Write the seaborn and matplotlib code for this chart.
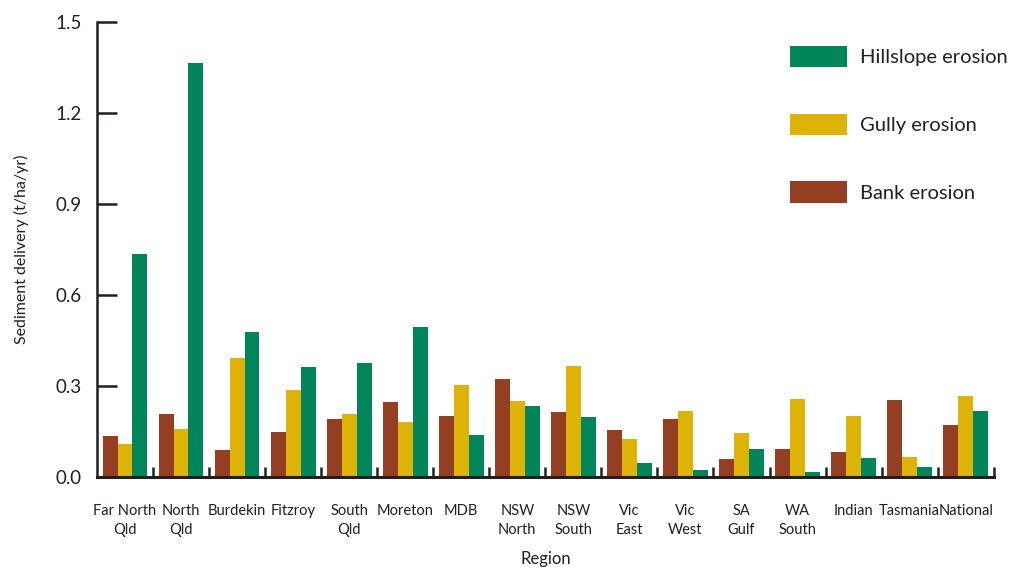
import matplotlib
matplotlib.use("Agg")
import matplotlib.pyplot as plt
import seaborn as sns
import pandas as pd
import numpy as np

regions = ["Far North\nQld", "North\nQld", "Burdekin", "Fitzroy", "South\nQld", "Moreton",
           "MDB", "NSW\nNorth", "NSW\nSouth", "Vic\nEast", "Vic\nWest", "SA\nGulf",
           "WA\nSouth", "Indian", "Tasmania", "National"]
bank = [0.134, 0.208, 0.087, 0.148, 0.192, 0.247, 0.202, 0.322, 0.213, 0.153, 0.192, 0.060,
        0.092, 0.083, 0.254, 0.170]
gully = [0.108, 0.159, 0.392, 0.286, 0.208, 0.180, 0.302, 0.251, 0.365, 0.124, 0.216, 0.145,
         0.256, 0.202, 0.065, 0.266]
hillslope = [0.737, 1.365, 0.478, 0.362, 0.375, 0.496, 0.139, 0.233, 0.196, 0.044, 0.021, 0.092,
             0.016, 0.063, 0.032, 0.216]
series = ["Bank erosion", "Gully erosion", "Hillslope erosion"]
colors = ["#943E22", "#DDB308", "#00845A"]
yticks = [0.0, 0.3, 0.6, 0.9, 1.2, 1.5]

df = pd.DataFrame({
    "Region": regions * 3,
    "Value": bank + gully + hillslope,
    "Series": [series[0]] * 16 + [series[1]] * 16 + [series[2]] * 16,
})

sns.set_theme(style="white")
plt.rcParams["font.family"] = ["Lato", "DejaVu Sans"]
text_color = "#231F20"

fig = plt.figure(figsize=(10.11, 5.68), dpi=100)
ax = fig.add_axes([0.0959, 0.1607, 0.887, 0.7997])

sns.barplot(data=df, x="Region", y="Value", hue="Series", hue_order=series,
            palette=colors, order=regions, width=0.8, saturation=1, ax=ax,
            edgecolor="none", linewidth=0)

ax.set_ylim(0, 1.5)
ax.set_xlim(-0.5, len(regions) - 0.5)
ax.set_yticks(yticks)
ax.set_yticklabels([f"{v:.1f}" for v in yticks], fontsize=13.5, color=text_color)
ax.tick_params(axis="y", direction="in", length=14.5, width=1.8, color=text_color, pad=11, left=True)
ax.set_xticks(range(len(regions)))
ax.set_xticklabels(regions, fontsize=10.5, color=text_color, linespacing=1.45)
ax.tick_params(axis="x", which="major", length=0, pad=19.5)
ax.set_xticks(np.arange(0.5, len(regions), 1.0), minor=True)
ax.tick_params(axis="x", which="minor", direction="in", length=7, width=1.8, color=text_color, bottom=True)

for s in ["top", "right"]:
    ax.spines[s].set_visible(False)
ax.spines["left"].set_linewidth(1.8)
ax.spines["left"].set_color(text_color)
ax.spines["bottom"].set_linewidth(2.2)
ax.spines["bottom"].set_color(text_color)

ax.set_ylabel("Sediment delivery (t/ha/yr)", fontsize=11.5, color=text_color, labelpad=19)
ax.set_xlabel("Region", fontsize=12, color=text_color, labelpad=10.5)

handles, labels = ax.get_legend_handles_labels()
ax.legend(handles[::-1], labels[::-1], loc="upper left",
          bbox_to_anchor=(790 / 1011, 1 - 46 / 568), bbox_transform=fig.transFigure,
          frameon=False, fontsize=14.5, handlelength=2.85, handleheight=1.25,
          labelspacing=2.3, handletextpad=0.65, labelcolor=text_color,
          borderpad=0, borderaxespad=0)

fig.savefig("out.png", dpi=100)
